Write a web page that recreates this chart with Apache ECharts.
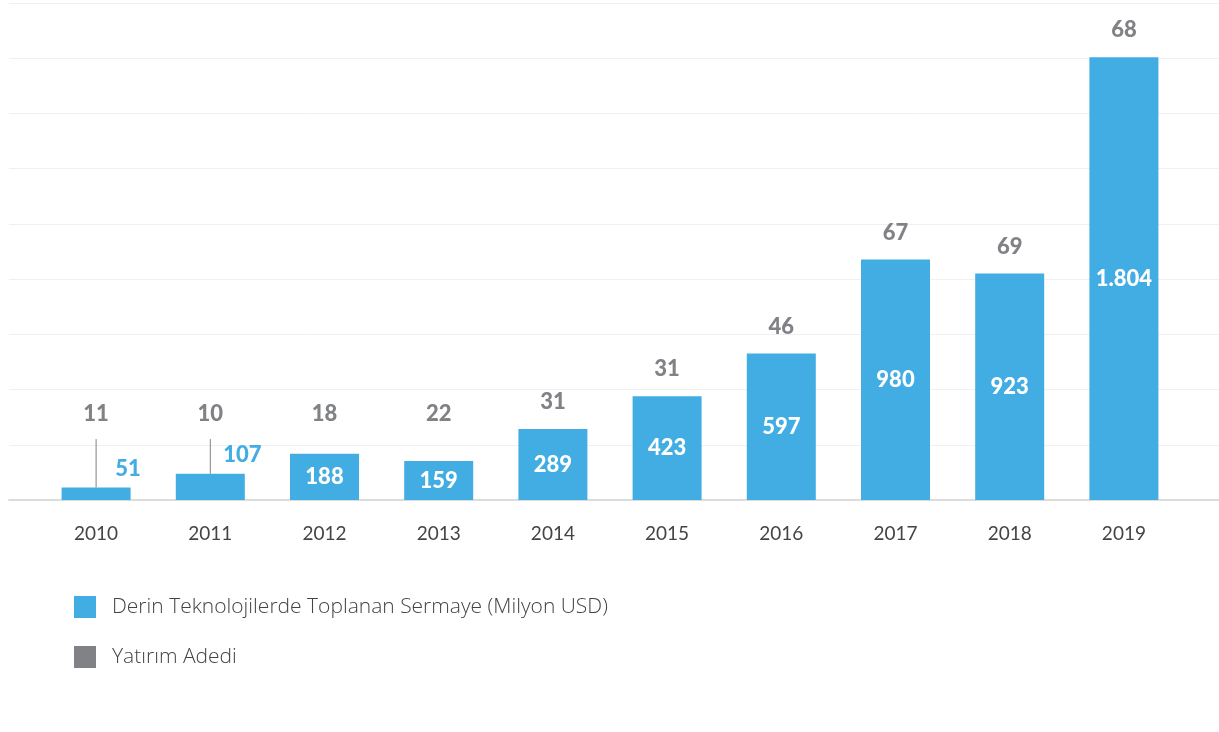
<!DOCTYPE html>
<html>
<head>
<meta charset="utf-8">
<style>
  html, body { margin: 0; padding: 0; background: #ffffff; }
  #chart { width: 1219px; height: 732px; }
</style>
<script src="https://cdn.jsdelivr.net/npm/echarts@6/dist/echarts.min.js"></script>
</head>
<body>
<div id="chart"></div>
<script>
// Yearly deep-tech funding (million USD) and number of deals
const years = ['2010', '2011', '2012', '2013', '2014', '2015', '2016', '2017', '2018', '2019'];
const capital = [51, 107, 188, 159, 289, 423, 597, 980, 923, 1804];
const dealCount = [11, 10, 18, 22, 31, 31, 46, 67, 69, 68];
const yMax = 2025;
const yInterval = 225;

const capitalName = 'Derin Teknolojilerde Toplanan Sermaye (Milyon USD)';
const countName = 'Yatırım Adedi';

const BLUE = '#42ade2';
const GREY = '#808285';
const FONT = 'Lato';
const LEGEND_FONT = 'Open Sans';
const OUTSIDE_LIMIT = 150;   // bars below this get their value label outside
const COUNT_FLOOR = 350;     // count labels never sit lower than this value level

const fmt = v => String(v).replace(/\B(?=(\d{3})+(?!\d))/g, '.');

const barData = capital.map(v => v < OUTSIDE_LIMIT
  ? { value: v, label: { position: 'top', color: BLUE, offset: [32, 0], distance: 8 } }
  : v);

const countData = capital.map((v, i) => [i, v, dealCount[i]]);

const chart = echarts.init(document.getElementById('chart'), null, { renderer: 'canvas' });

chart.setOption({
  backgroundColor: '#ffffff',
  animation: false,
  textStyle: { fontFamily: FONT },
  legend: {
    orient: 'vertical',
    left: 69,
    top: 591,
    itemWidth: 22,
    itemHeight: 22,
    itemGap: 28,
    icon: 'rect',
    textStyle: { fontFamily: LEGEND_FONT, fontWeight: 300, fontSize: 21, color: '#444444', padding: [0, 0, 0, 11] },
    data: [
      { name: capitalName, itemStyle: { color: BLUE } },
      { name: countName, itemStyle: { color: GREY } }
    ]
  },
  grid: [
    { left: 9, right: 0, top: 3, bottom: 232 },
    { left: 39, right: 38, top: 3, bottom: 232 }
  ],
  xAxis: [
    {
      gridIndex: 0, type: 'value', min: 0, max: 1,
      axisLine: { show: true, lineStyle: { color: '#dcdcdc', width: 2 } },
      axisTick: { show: false }, axisLabel: { show: false }, splitLine: { show: false }
    },
    {
      gridIndex: 1, type: 'category', data: years,
      axisLine: { show: false }, axisTick: { show: false }, splitLine: { show: false },
      axisLabel: { margin: 24, color: '#444444', fontSize: 19, fontFamily: FONT }
    }
  ],
  yAxis: [
    {
      gridIndex: 0, type: 'value', min: 0, max: yMax, interval: yInterval,
      axisLine: { show: false }, axisTick: { show: false }, axisLabel: { show: false },
      splitLine: { show: true, lineStyle: { color: '#f0f0f0', width: 1 } }
    },
    {
      gridIndex: 1, type: 'value', min: 0, max: yMax, interval: yInterval,
      axisLine: { show: false }, axisTick: { show: false }, axisLabel: { show: false },
      splitLine: { show: false }
    }
  ],
  series: [
    {
      name: capitalName,
      type: 'bar',
      xAxisIndex: 1,
      yAxisIndex: 1,
      barWidth: 69,
      z: 3,
      itemStyle: { color: BLUE },
      label: {
        show: true,
        position: 'inside',
        color: '#ffffff',
        fontFamily: FONT,
        fontWeight: 900,
        fontSize: 22,
        formatter: p => fmt(p.value)
      },
      data: barData
    },
    {
      name: countName,
      type: 'custom',
      xAxisIndex: 1,
      yAxisIndex: 1,
      z: 4,
      itemStyle: { color: GREY },
      encode: { x: 0, y: 1 },
      renderItem: (params, api) => {
        const i = api.value(0);
        const v = api.value(1);
        const top = api.coord([i, v]);
        const floorY = api.coord([i, COUNT_FLOOR])[1];
        const labelY = Math.min(top[1] - 27, floorY);
        const children = [{
          type: 'text',
          style: {
            x: top[0], y: labelY,
            text: String(api.value(2)),
            fill: GREY,
            font: '900 22px ' + FONT,
            textAlign: 'center',
            textVerticalAlign: 'middle'
          }
        }];
        if (v < OUTSIDE_LIMIT) {
          children.push({
            type: 'line',
            shape: { x1: top[0], y1: labelY + 25, x2: top[0], y2: top[1] },
            style: { stroke: GREY, lineWidth: 1 }
          });
        }
        return { type: 'group', children };
      },
      data: countData
    }
  ]
});
</script>
</body>
</html>
